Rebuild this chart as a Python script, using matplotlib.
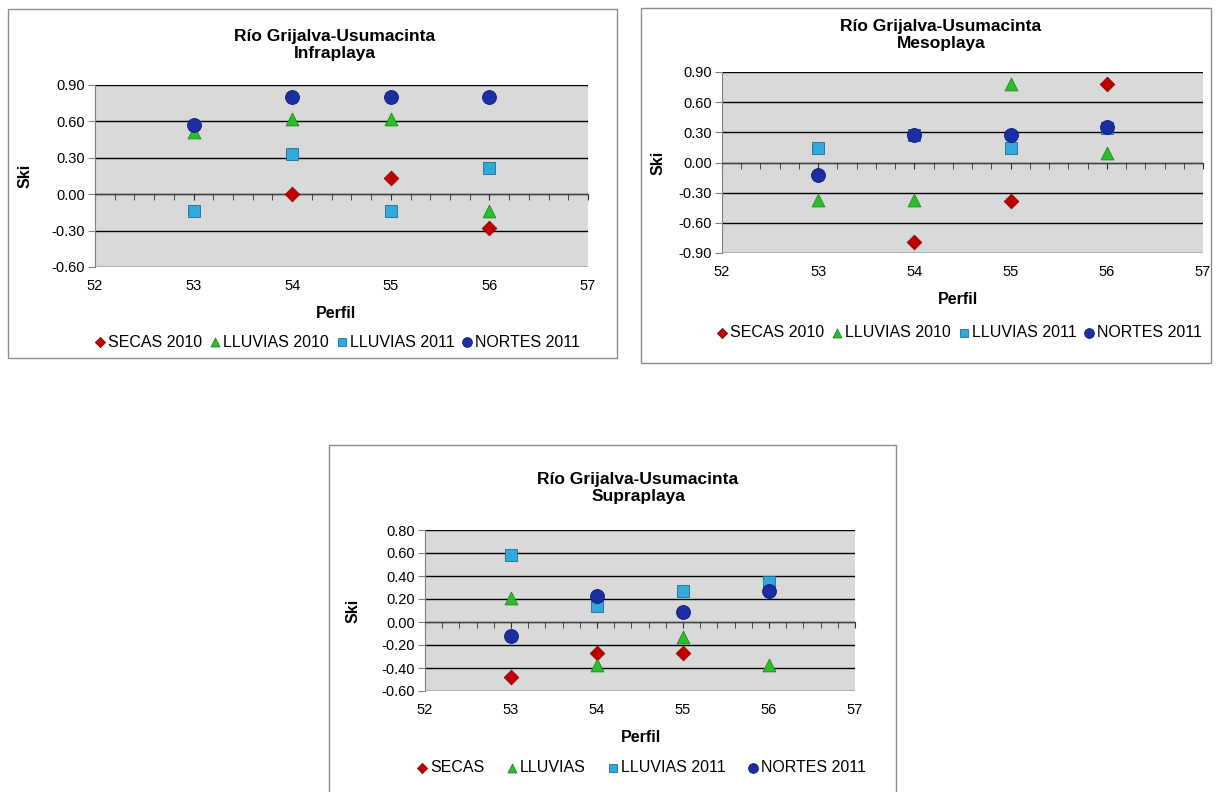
import numpy as np
import matplotlib
matplotlib.use("Agg")
from matplotlib import pyplot as plt
from matplotlib.patches import Rectangle
from matplotlib.ticker import MultipleLocator, FormatStrFormatter

plt.rcParams['font.family'] = ['Liberation Sans', 'DejaVu Sans']
plt.rcParams['axes.unicode_minus'] = False

perfil = [53, 54, 55, 56]

# Infraplaya
infra_secas = [np.nan, 0.00, 0.13, -0.28]
infra_lluvias10 = [0.51, 0.62, 0.62, -0.14]
infra_lluvias11 = [-0.14, 0.33, -0.14, 0.22]
infra_nortes = [0.57, 0.80, 0.80, 0.80]

# Mesoplaya
meso_secas = [np.nan, -0.79, -0.38, 0.78]
meso_lluvias10 = [-0.37, -0.37, 0.78, 0.09]
meso_lluvias11 = [0.14, 0.27, 0.14, 0.34]
meso_nortes = [-0.12, 0.27, 0.27, 0.35]

# Supraplaya
supra_secas = [-0.48, -0.27, -0.27, np.nan]
supra_lluvias = [0.21, -0.37, -0.13, -0.37]
supra_lluvias11 = [0.58, 0.14, 0.27, 0.35]
supra_nortes = [-0.12, 0.23, 0.09, 0.27]

labels_a = ['SECAS 2010', 'LLUVIAS 2010', 'LLUVIAS 2011', 'NORTES 2011']
labels_b = ['SECAS', 'LLUVIAS', 'LLUVIAS 2011', 'NORTES 2011']

styles = [
    dict(marker='D', color='#C00000', edgecolor='#8A0000', s=55),
    dict(marker='^', color='#2DBE2D', edgecolor='#1C8A1C', s=85),
    dict(marker='s', color='#31A9DC', edgecolor='#1A6E96', s=85),
    dict(marker='o', color='#1B2FA5', edgecolor='#0E1A6E', s=100),
]

W, H = 1217, 792
fig = plt.figure(figsize=(W / 100, H / 100), dpi=100)


def frame(x0, y0, x1, y1):
    fig.patches.append(Rectangle((x0 / W, 1 - y1 / H), (x1 - x0) / W, (y1 - y0) / H,
                                 transform=fig.transFigure, fill=False,
                                 edgecolor='#8C8C8C', lw=1.0))


def chart(box, series, labels, ylim, ystep, subtitle, title_xy, ski_x, perfil_xy,
          leg_xy, colsp):
    left, top, right, bottom = box
    ax = fig.add_axes([left / W, 1 - bottom / H, (right - left) / W, (bottom - top) / H])
    ax.set_facecolor('#D9D9D9')
    for vals, st, lab in zip(series, styles, labels):
        ax.scatter(perfil, vals, label=lab, zorder=3, linewidths=0.6, **st)
    ax.set_xlim(52, 57)
    ax.set_ylim(*ylim)
    ax.yaxis.set_major_locator(MultipleLocator(ystep))
    ax.yaxis.set_major_formatter(FormatStrFormatter('%.2f'))
    ax.grid(axis='y', color='black', lw=1.0)
    ax.set_axisbelow(True)
    ax.spines['top'].set_visible(False)
    ax.spines['right'].set_visible(False)
    ax.spines['left'].set_color('#808080')
    ax.spines['bottom'].set_position(('data', 0))
    ax.spines['bottom'].set_color('#404040')
    ax.xaxis.set_major_locator(MultipleLocator(1))
    ax.xaxis.set_minor_locator(MultipleLocator(0.2))
    ax.tick_params(axis='x', which='major', direction='out', length=4, color='#303030',
                   labelbottom=False)
    ax.tick_params(axis='x', which='minor', direction='out', length=4, color='#303030')
    ax.tick_params(axis='y', direction='out', length=5, color='#808080',
                   labelsize=10.5, pad=2)
    # category labels sit at the bottom of the plot area, not on the zero line
    sec = ax.secondary_xaxis(0.0)
    sec.spines['bottom'].set_visible(False)
    sec.xaxis.set_major_locator(MultipleLocator(1))
    sec.tick_params(length=0, labelsize=10.5, pad=9)
    ax.set_ylabel('Ski', fontsize=11.5, fontweight='bold')
    ax.yaxis.set_label_coords((ski_x - left) / (right - left), 0.5)
    fig.text(perfil_xy[0] / W, 1 - perfil_xy[1] / H, 'Perfil', ha='center', va='center',
             fontsize=11.5, fontweight='bold')
    fig.text(title_xy[0] / W, 1 - title_xy[1] / H, 'Río Grijalva-Usumacinta\n' + subtitle,
             ha='center', va='center', fontsize=12.5, fontweight='bold', linespacing=1.15)
    ax.legend(loc='center', bbox_to_anchor=(leg_xy[0] / W, 1 - leg_xy[1] / H),
              bbox_transform=fig.transFigure, ncol=4, frameon=False, fontsize=11.5,
              handletextpad=0.0, columnspacing=colsp, handlelength=1.0,
              borderpad=0, markerscale=0.7)
    return ax


frame(8, 9, 617, 358)
frame(641, 8, 1211, 363)
frame(329, 445, 896, 800)

chart((95, 85, 588, 267),
      [infra_secas, infra_lluvias10, infra_lluvias11, infra_nortes], labels_a,
      (-0.6, 0.9), 0.3, 'Infraplaya', (335, 45), 33, (336, 313), (336, 342), 0.3)
chart((722, 72, 1203, 253),
      [meso_secas, meso_lluvias10, meso_lluvias11, meso_nortes], labels_a,
      (-0.9, 0.9), 0.3, 'Mesoplaya', (941, 35), 666, (958, 300), (958, 333), 0.3)
chart((425, 530, 855, 691),
      [supra_secas, supra_lluvias, supra_lluvias11, supra_nortes], labels_b,
      (-0.6, 0.8), 0.2, 'Supraplaya', (638, 488), 361, (641, 738), (640, 768), 1.2)

fig.savefig('out.png', dpi=100)
